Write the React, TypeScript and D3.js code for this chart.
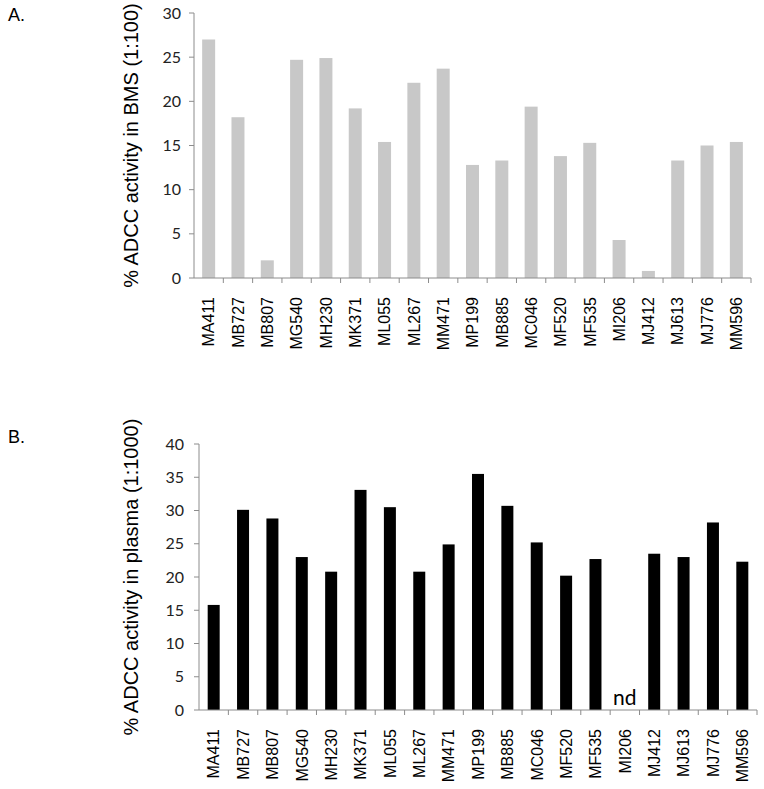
import React from 'react';
import * as d3 from 'd3';

const samples = ['MA411', 'MB727', 'MB807', 'MG540', 'MH230', 'MK371', 'ML055', 'ML267', 'MM471', 'MP199', 'MB885', 'MC046', 'MF520', 'MF535', 'MI206', 'MJ412', 'MJ613', 'MJ776', 'MM596'];

// % ADCC activity in BMS (1:100)
const bmsValues = [27.0, 18.2, 2.0, 24.7, 24.9, 19.2, 15.4, 22.1, 23.7, 12.8, 13.3, 19.4, 13.8, 15.3, 4.3, 0.8, 13.3, 15.0, 15.4];
// % ADCC activity in plasma (1:1000), null = not determined
const plasmaValues = [15.8, 30.1, 28.8, 23.0, 20.8, 33.1, 30.5, 20.8, 24.9, 35.5, 30.7, 25.2, 20.2, 22.7, null, 23.5, 23.0, 28.2, 22.3];

const bmsTicks = [0, 5, 10, 15, 20, 25, 30];
const plasmaTicks = [0, 5, 10, 15, 20, 25, 30, 35, 40];

const axisColor = '#8c8c8c';
const labelFont = '"Liberation Sans", Arial, sans-serif';
const tickFont = 'Lato, "Open Sans", sans-serif';

function Panel({ letter, letterY, values, ticks, yMax, left, right, top, bottom, color, barW, title, tickGap }) {
  const x = d3.scaleBand().domain(samples).range([left, right]).padding(0);
  const y = d3.scaleLinear().domain([0, yMax]).range([bottom, top]);
  const step = x.step();
  const midY = (top + bottom) / 2;

  return (
    <g>
      <text x={8} y={letterY} fontFamily={labelFont} fontSize={18} fill="#000">{letter}</text>

      {/* y axis */}
      <line x1={left} x2={left} y1={top} y2={bottom} stroke={axisColor} strokeWidth={1} />
      {ticks.map((t) => (
        <g key={'yt' + t}>
          <line x1={left - 5} x2={left} y1={y(t)} y2={y(t)} stroke={axisColor} />
          <text x={left - tickGap} y={y(t)} dy="0.35em" textAnchor="end" fontFamily={tickFont} fontSize={16} fill="#222">{t}</text>
        </g>
      ))}

      {/* bars */}
      {values.map((v, i) => v == null ? null : (
        <rect key={'b' + i}
          x={x(samples[i]) + step / 2 - barW / 2}
          y={y(v)}
          width={barW}
          height={y(0) - y(v)}
          fill={color} />
      ))}

      {/* x axis */}
      <line x1={left} x2={right} y1={bottom} y2={bottom} stroke={axisColor} strokeWidth={1} />
      {samples.map((s) => (
        <line key={'xt' + s} x1={x(s) + step} x2={x(s) + step} y1={bottom} y2={bottom + 5} stroke={axisColor} />
      ))}
      {samples.map((s) => (
        <text key={'xl' + s}
          transform={`translate(${x(s) + step / 2},${bottom + 19}) rotate(-90)`}
          dy="0.36em"
          textAnchor="end"
          fontFamily={labelFont}
          fontSize={16}
          fill="#000">{s}</text>
      ))}

      {values.map((v, i) => v == null ? (
        <text key={'nd' + i} x={x(samples[i]) + step / 2} y={bottom - 5} textAnchor="middle"
          fontFamily={tickFont} fontSize={21} fill="#000">nd</text>
      ) : null)}

      <text transform={`translate(131,${midY}) rotate(-90)`} dy="0.35em" textAnchor="middle"
        fontFamily={labelFont} fontSize={20} fill="#000">{title}</text>
    </g>
  );
}

export default function App() {
  return (
    <svg width={764} height={789} style={{ position: 'absolute', left: 0, top: 0, background: '#fff' }}>
      <rect x={0} y={0} width={764} height={789} fill="#fff" />
      <Panel letter="A." letterY={21} values={bmsValues} ticks={bmsTicks} yMax={30}
        left={194} right={751} top={13} bottom={278} color="#c8c8c8" barW={13}
        title="% ADCC activity in BMS (1:100)" tickGap={13} />
      <Panel letter="B." letterY={443} values={plasmaValues} ticks={plasmaTicks} yMax={40}
        left={199} right={757} top={444} bottom={710} color="#000" barW={12}
        title="% ADCC activity in plasma (1:1000)" tickGap={15} />
    </svg>
  );
}
